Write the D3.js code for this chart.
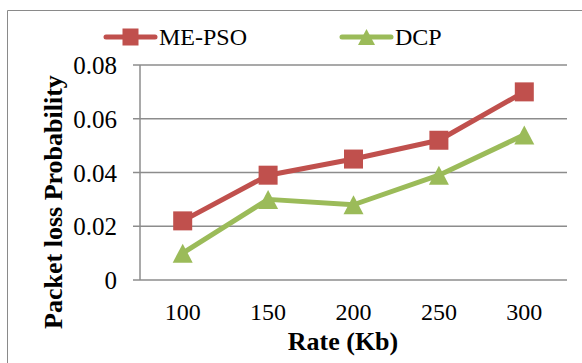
<!DOCTYPE html>
<html><head><meta charset="utf-8"><script src="https://cdn.jsdelivr.net/npm/d3@7"></script></head>
<body style="margin:0">
<svg id="plt" width="582" height="363"></svg>
<script>
const categories = ["100", "150", "200", "250", "300"];
const mePso = [0.022, 0.039, 0.045, 0.052, 0.070];
const dcp = [0.010, 0.030, 0.028, 0.039, 0.054];
const yTicks = [0, 0.02, 0.04, 0.06, 0.08];
const seriesNames = ["ME-PSO", "DCP"];

const W = 582, H = 363;
const svg = d3.select("#plt");
const red = "#C0504D", green = "#9BBB59", gridC = "#8c8c8c";
const FONT = '"Liberation Serif", Tinos, "Times New Roman", "DejaVu Serif", serif';

svg.append("path")
  .attr("d", `M7.5,${H + 5} V10.5 H${W + 5}`)
  .attr("fill", "none").attr("stroke", "#8a8a8a").attr("stroke-width", 1);

const m = { left: 140, right: 567, top: 65, bottom: 280 };
const x = d3.scaleBand().domain(categories).range([m.left, m.right]);
const y = d3.scaleLinear().domain([0, 0.08]).range([m.bottom, m.top]);

svg.append("g").selectAll("line").data(yTicks).join("line")
  .attr("x1", m.left - 7).attr("x2", m.right)
  .attr("y1", d => y(d)).attr("y2", d => y(d))
  .attr("stroke", gridC).attr("stroke-width", 1.5);

svg.append("line").attr("x1", m.left).attr("x2", m.left)
  .attr("y1", y(0.08)).attr("y2", y(0))
  .attr("stroke", gridC).attr("stroke-width", 1.5);

svg.selectAll("text.yt").data(yTicks).join("text").attr("class", "yt")
  .attr("x", 117).attr("y", d => y(d) + 9).attr("font-size", 25)
  .attr("text-anchor", "end").style("font-family", FONT)
  .text(d => d === 0 ? "0" : d3.format(".2f")(d));

svg.selectAll("text.xt").data(categories).join("text").attr("class", "xt")
  .attr("x", d => x(d) + x.bandwidth() / 2).attr("y", 320).attr("font-size", 24)
  .attr("text-anchor", "middle").style("font-family", FONT)
  .text(d => d);

svg.append("text").attr("x", 343).attr("y", 350).attr("font-size", 26)
  .attr("text-anchor", "middle").attr("font-weight", "bold").style("font-family", FONT)
  .text("Rate (Kb)");
svg.append("text").attr("transform", "translate(62,202) rotate(-90)").attr("font-size", 26)
  .attr("text-anchor", "middle").attr("font-weight", "bold").style("font-family", FONT)
  .text("Packet loss Probability");

const cx = d => x(d) + x.bandwidth() / 2;
const line = d3.line().x(d => cx(d.c)).y(d => y(d.v));
const tri = (s, h) => `M0,${-h / 2} L${s / 2},${h / 2} L${-s / 2},${h / 2} Z`;

const ser = [
  { name: seriesNames[0], vals: mePso, color: red, shape: "square" },
  { name: seriesNames[1], vals: dcp, color: green, shape: "triangle" }
];

ser.forEach(s => {
  const data = categories.map((c, i) => ({ c, v: s.vals[i] }));
  svg.append("path").datum(data).attr("d", line)
    .attr("fill", "none").attr("stroke", s.color).attr("stroke-width", 5)
    .attr("stroke-linejoin", "round").attr("stroke-linecap", "round");
  const g = svg.append("g");
  data.forEach(d => {
    if (s.shape === "square") {
      g.append("rect").attr("x", cx(d.c) - 9.5).attr("y", y(d.v) - 9.5)
        .attr("width", 19).attr("height", 19).attr("fill", s.color);
    } else {
      g.append("path").attr("d", tri(20, 19))
        .attr("transform", `translate(${cx(d.c)},${y(d.v)})`).attr("fill", s.color);
    }
  });
});

const leg = [
  { x1: 106, x2: 155, tx: 159 },
  { x1: 342, x2: 391, tx: 395 }
];
ser.forEach((s, i) => {
  const L = leg[i], ly = 37;
  svg.append("line").attr("x1", L.x1).attr("x2", L.x2).attr("y1", ly).attr("y2", ly)
    .attr("stroke", s.color).attr("stroke-width", 5).attr("stroke-linecap", "round");
  const mx = (L.x1 + L.x2) / 2;
  if (s.shape === "square") {
    svg.append("rect").attr("x", mx - 8).attr("y", ly - 8.5).attr("width", 16).attr("height", 17).attr("fill", s.color);
  } else {
    svg.append("path").attr("d", tri(17, 16)).attr("transform", `translate(${mx},${ly})`).attr("fill", s.color);
  }
  svg.append("text").attr("x", L.tx).attr("y", ly + 8).attr("font-size", 24)
    .style("font-family", FONT).text(s.name);
});
</script>
</body>
</html>
